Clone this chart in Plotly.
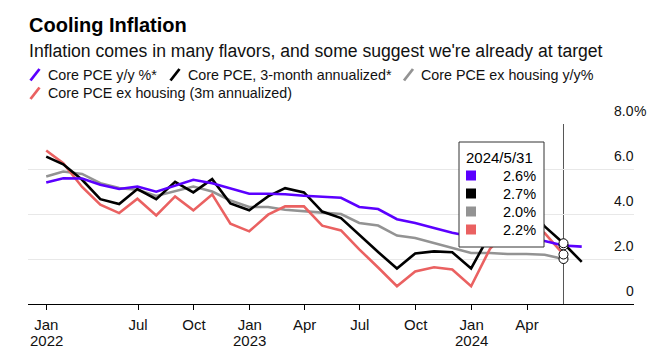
import pandas as pd
import plotly.graph_objects as go

# ---------------- data ----------------
dates = pd.date_range("2022-01-31", periods=30, freq="ME")

series_names = [
    "Core PCE y/y %*",
    "Core PCE, 3-month annualized*",
    "Core PCE ex housing y/y%",
    "Core PCE ex housing (3m annualized)",
]
core_yoy = [5.40, 5.59, 5.58, 5.30, 5.11, 5.22, 4.99, 5.25, 5.52, 5.37, 5.13, 4.90,
            4.90, 4.88, 4.81, 4.77, 4.72, 4.31, 4.22, 3.77, 3.60, 3.38, 3.17, 3.00,
            2.92, 2.85, 2.85, 2.80, 2.60, 2.55]
core_3m = [6.55, 6.21, 5.52, 4.66, 4.44, 5.11, 4.66, 5.43, 4.96, 5.55, 4.47, 4.17,
           4.78, 5.15, 4.96, 4.11, 3.82, 3.07, 2.31, 1.58, 2.25, 2.34, 2.30, 1.58,
           3.10, 4.00, 4.40, 3.45, 2.70, 1.87]
exh_yoy = [5.67, 5.89, 5.78, 5.37, 5.15, 5.08, 4.80, 5.00, 5.22, 5.00, 4.60, 4.31,
           4.31, 4.19, 4.11, 4.06, 4.00, 3.60, 3.49, 3.04, 2.93, 2.71, 2.49, 2.27,
           2.27, 2.22, 2.22, 2.19, 2.00]
exh_3m = [6.82, 6.26, 5.20, 4.41, 4.04, 4.68, 3.94, 4.78, 4.16, 4.87, 3.57, 3.23,
          3.97, 4.34, 4.34, 3.48, 3.27, 2.43, 1.62, 0.79, 1.45, 1.63, 1.53, 0.79,
          2.45, 3.30, 3.60, 3.15, 2.20]
colors = ["#5b00ff", "#000000", "#939393", "#ea6161"]

x_tick_vals = ["2022-01-31", "2022-07-01", "2022-10-01", "2023-01-01", "2023-04-01",
               "2023-07-01", "2023-10-01", "2024-01-01", "2024-04-01"]
x_tick_text = ["Jan", "Jul", "Oct", "Jan", "Apr", "Jul", "Oct", "Jan", "Apr"]
x_year_vals = ["2022-01-31", "2023-01-01", "2024-01-01"]
x_year_text = ["2022", "2023", "2024"]
y_tick_vals = [0, 2, 4, 6, 8]
y_tick_text = ["0", "2.0", "4.0", "6.0", "8.0"]

hover_date = pd.Timestamp("2024-05-31")

# ---------------- layout helpers ----------------
# page body has an 8px margin; positions below are given in window pixels
OFF = 8
W, H = 654, 353
L, R, T, B = 20, 28, 116, 57
PW, PH = W - L - R, H - T - B
FONT = "Liberation Sans, Arial, sans-serif"


def px(x):
    return (x - OFF - L) / PW


def py(y):
    return (H - B - (y - OFF)) / PH


all_series = [core_yoy, core_3m, exh_yoy, exh_3m]

fig = go.Figure()
draw_order = [2, 3, 1, 0]
for i in draw_order:
    vals = all_series[i]
    fig.add_trace(go.Scatter(
        x=dates[:len(vals)], y=vals, mode="lines", name=series_names[i],
        line=dict(color=colors[i], width=2.6), hoverinfo="skip", showlegend=False))

# hover markers
idx = list(dates).index(hover_date)
hv = [s[idx] for s in all_series]
fig.add_trace(go.Scatter(
    x=[hover_date] * 4, y=hv, mode="markers", showlegend=False, hoverinfo="skip",
    marker=dict(size=9, color="white", line=dict(color="#000", width=1))))

annotations = []
shapes = []

# crosshair
shapes.append(dict(type="line", xref="x", yref="y", x0=hover_date, x1=hover_date, y0=0, y1=8,
                   line=dict(color="#555555", width=1), layer="below"))

# title / subtitle
annotations.append(dict(text="<b>Cooling Inflation</b>", x=px(26.5), y=py(24.5), xref="paper", yref="paper",
                        xanchor="left", yanchor="middle", showarrow=False,
                        font=dict(family=FONT, size=20, color="#000")))
annotations.append(dict(text="Inflation comes in many flavors, and some suggest we're already at target",
                        x=px(26.5), y=py(51), xref="paper", yref="paper", xanchor="left", yanchor="middle",
                        showarrow=False, font=dict(family=FONT, size=17.6, color="#111")))

# custom legend with slanted icons
legend_pos = [(29, 74.5), (169, 74.5), (402.5, 74.5), (29, 93)]
for i, (lx, ly) in enumerate(legend_pos):
    shapes.append(dict(type="line", xref="paper", yref="paper",
                       x0=px(lx + 1.5), y0=py(ly + 6), x1=px(lx + 10.5), y1=py(ly - 5.5),
                       line=dict(color=colors[i], width=2.8)))
    annotations.append(dict(text=series_names[i], x=px(lx + 16.5), y=py(ly + 0.5), xref="paper", yref="paper",
                            xanchor="left", yanchor="middle", showarrow=False,
                            font=dict(family=FONT, size=14.3, color="#111")))

# y tick labels (right side, above gridlines)
for v, t in zip(y_tick_vals, y_tick_text):
    annotations.append(dict(text=t, x=px(636), y=v, xref="paper", yref="y", xanchor="right",
                            yanchor="middle", yshift=13, showarrow=False,
                            font=dict(family=FONT, size=14, color="#111")))
    if v == max(y_tick_vals):
        annotations.append(dict(text="%", x=px(632), y=v, xref="paper", yref="y", xanchor="left",
                                yanchor="middle", yshift=13, showarrow=False,
                                font=dict(family=FONT, size=14, color="#111")))

# year labels under the month ticks
for xv, t in zip(x_year_vals, x_year_text):
    annotations.append(dict(text=t, x=xv, y=py(340.5), xref="x", yref="paper", xanchor="center",
                            yanchor="middle", showarrow=False,
                            font=dict(family=FONT, size=15, color="#111")))

# tooltip box
bx0, bx1, by0, by1 = 459, 544, 142, 247
shapes.append(dict(type="rect", xref="paper", yref="paper", x0=px(bx0), x1=px(bx1),
                   y0=py(by1), y1=py(by0), fillcolor="white", line=dict(color="#333", width=1),
                   layer="above"))
annotations.append(dict(text=f"{hover_date.year}/{hover_date.month}/{hover_date.day}",
                        x=px(464), y=py(157), xref="paper", yref="paper", xanchor="left",
                        yanchor="middle", showarrow=False, font=dict(family=FONT, size=15, color="#000")))
row_y = [175.5, 193.5, 211.5, 229.5]
for i, ry in enumerate(row_y):
    shapes.append(dict(type="rect", xref="paper", yref="paper", x0=px(466), x1=px(476),
                       y0=py(ry + 5), y1=py(ry - 5), fillcolor=colors[i], line=dict(width=0),
                       layer="above"))
    annotations.append(dict(text=f"{hv[i]:.1f}%", x=px(538), y=py(ry), xref="paper", yref="paper",
                            xanchor="right", yanchor="middle", showarrow=False,
                            font=dict(family=FONT, size=14.5, color="#000")))

fig.update_layout(
    width=W, height=H, margin=dict(l=L, r=R, t=T, b=B, autoexpand=False),
    paper_bgcolor="white", plot_bgcolor="white",
    font=dict(family=FONT, size=14, color="#111"),
    showlegend=False, hovermode=False,
    annotations=annotations, shapes=shapes,
    xaxis=dict(type="date", range=["2022-01-01", "2024-09-24"], tickvals=x_tick_vals,
               ticktext=x_tick_text, showgrid=False, showline=True, linecolor="#000", linewidth=1,
               ticks="outside", ticklen=5, tickcolor="#000", tickwidth=1, ticklabelstandoff=2,
               tickfont=dict(family=FONT, size=15, color="#111"), zeroline=False, fixedrange=True),
    yaxis=dict(range=[0, 8], tickvals=[2, 4, 6, 8], showticklabels=False, showgrid=True,
               gridcolor="#e8e8e8", gridwidth=1, zeroline=False, showline=False, fixedrange=True),
)

fig.write_html("out.html")
